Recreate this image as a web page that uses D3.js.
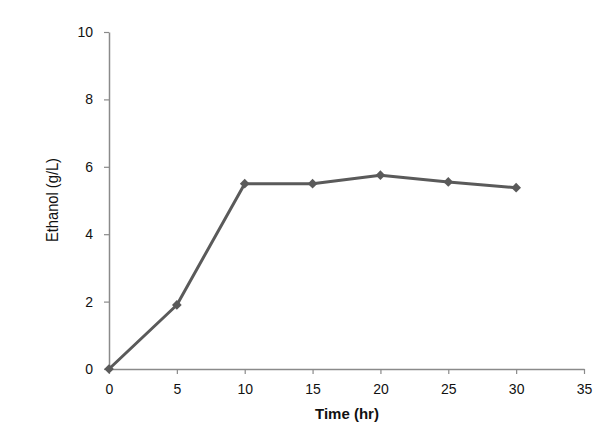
<!DOCTYPE html>
<html><head><meta charset="utf-8">
<script src="https://cdn.jsdelivr.net/npm/d3@7"></script>
<style>body{margin:0;background:#fff}</style>
</head><body>
<svg id="c" width="615" height="440"></svg>
<script>
const timeHr = [0, 5, 10, 15, 20, 25, 30];
const ethanol = [0, 1.9, 5.5, 5.5, 5.75, 5.55, 5.38];
const xTicks = [0, 5, 10, 15, 20, 25, 30, 35];
const yTicks = [0, 2, 4, 6, 8, 10];

const svg = d3.select("#c");
const m = {l:109, r:584, t:32, b:369};
const x = d3.scaleLinear().domain([0,35]).range([m.l, m.r]);
const y = d3.scaleLinear().domain([0,10]).range([m.b, m.t]);
const axisColor = "#8a8a8a";
const font = "'Liberation Sans', Arial, sans-serif";

const gx = svg.append("g").attr("transform", `translate(0,${m.b})`)
  .call(d3.axisBottom(x).tickValues(xTicks).tickSize(5).tickSizeOuter(0).tickPadding(10));
const gy = svg.append("g").attr("transform", `translate(${m.l},0)`)
  .call(d3.axisLeft(y).tickValues(yTicks).tickSize(5).tickSizeOuter(0).tickPadding(11));
[gx, gy].forEach(g => {
  g.select(".domain").attr("stroke", axisColor).attr("stroke-width", 1.5);
  g.selectAll(".tick line").attr("stroke", axisColor).attr("stroke-width", 1.2);
  g.selectAll(".tick text").attr("fill", "#111").attr("font-family", font).attr("font-size", 14);
});

const line = d3.line().x((d,i)=>x(timeHr[i])).y(d=>y(d));
svg.append("path").datum(ethanol).attr("d", line)
  .attr("fill","none").attr("stroke","#5a5a5a").attr("stroke-width",3).attr("stroke-linejoin","round");

svg.selectAll(".pt").data(ethanol).enter().append("path")
  .attr("d", d3.symbol().type(d3.symbolDiamond2).size(60))
  .attr("transform", (d,i)=>`translate(${x(timeHr[i])},${y(d)})`)
  .attr("fill","#5a5a5a");

svg.append("text").attr("x", 347).attr("y", 419).attr("text-anchor","middle")
  .attr("font-family", font).attr("font-size", 15).attr("font-weight","bold").attr("fill","#111")
  .text("Time (hr)");
svg.append("text").attr("transform", `translate(58,200) rotate(-90)`)
  .attr("text-anchor","middle").attr("font-family", font).attr("font-size", 16).attr("fill","#111")
  .attr("textLength", 84).attr("lengthAdjust","spacingAndGlyphs")
  .text("Ethanol (g/L)");
</script>
</body></html>
